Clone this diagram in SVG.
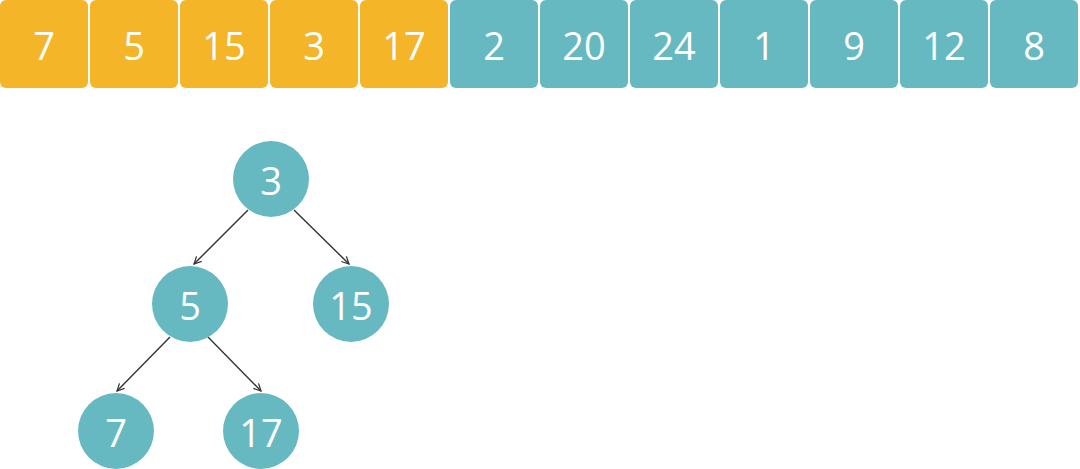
<svg xmlns="http://www.w3.org/2000/svg" width="1080" height="469" viewBox="0 0 1080 469">
<style>
.y{fill:#F4B528}
.t{fill:#66B9C1}
.lbl{fill:#fff;font-family:"Open Sans","Liberation Sans",sans-serif;font-size:38px;text-anchor:middle;dominant-baseline:central}
.e{stroke:#333;stroke-width:1.4;fill:none;marker-end:url(#ah)}
</style>
<defs>
<marker id="ah" viewBox="0 0 10 10" refX="9" refY="5" markerWidth="9" markerHeight="9" markerUnits="userSpaceOnUse" orient="auto">
<path d="M1,1 L9,5 L1,9" fill="none" stroke="#333" stroke-width="1.4"/>
</marker>
</defs>
<g id="array">
<g id="a0"><rect class="y" x="0" y="0" width="88" height="88" rx="6"/><text class="lbl" x="44" y="45">7</text></g>
<g id="a1"><rect class="y" x="90" y="0" width="88" height="88" rx="6"/><text class="lbl" x="134" y="45">5</text></g>
<g id="a2"><rect class="y" x="180" y="0" width="88" height="88" rx="6"/><text class="lbl" x="224" y="45">15</text></g>
<g id="a3"><rect class="y" x="270" y="0" width="88" height="88" rx="6"/><text class="lbl" x="314" y="45">3</text></g>
<g id="a4"><rect class="y" x="360" y="0" width="88" height="88" rx="6"/><text class="lbl" x="404" y="45">17</text></g>
<g id="a5"><rect class="t" x="450" y="0" width="88" height="88" rx="6"/><text class="lbl" x="494" y="45">2</text></g>
<g id="a6"><rect class="t" x="540" y="0" width="88" height="88" rx="6"/><text class="lbl" x="584" y="45">20</text></g>
<g id="a7"><rect class="t" x="630" y="0" width="88" height="88" rx="6"/><text class="lbl" x="674" y="45">24</text></g>
<g id="a8"><rect class="t" x="720" y="0" width="88" height="88" rx="6"/><text class="lbl" x="764" y="45">1</text></g>
<g id="a9"><rect class="t" x="810" y="0" width="88" height="88" rx="6"/><text class="lbl" x="854" y="45">9</text></g>
<g id="a10"><rect class="t" x="900" y="0" width="88" height="88" rx="6"/><text class="lbl" x="944" y="45">12</text></g>
<g id="a11"><rect class="t" x="990" y="0" width="88" height="88" rx="6"/><text class="lbl" x="1034" y="45">8</text></g>
</g>
<g id="connectors">
<line class="e" x1="248" y1="210" x2="194" y2="264"/>
<line class="e" x1="294" y1="210" x2="349" y2="264"/>
<line class="e" x1="170" y1="337" x2="117" y2="391"/>
<line class="e" x1="208" y1="337" x2="261" y2="391"/>
</g>
<g id="n3"><circle class="t" cx="271" cy="179" r="38"/><text class="lbl" x="271" y="180">3</text></g>
<g id="n5"><circle class="t" cx="190" cy="304" r="38"/><text class="lbl" x="190" y="305">5</text></g>
<g id="n15"><circle class="t" cx="351" cy="304" r="38"/><text class="lbl" x="351" y="305">15</text></g>
<g id="n7"><circle class="t" cx="116" cy="431" r="38"/><text class="lbl" x="116" y="432">7</text></g>
<g id="n17"><circle class="t" cx="261" cy="431" r="38"/><text class="lbl" x="261" y="432">17</text></g>
</svg>
